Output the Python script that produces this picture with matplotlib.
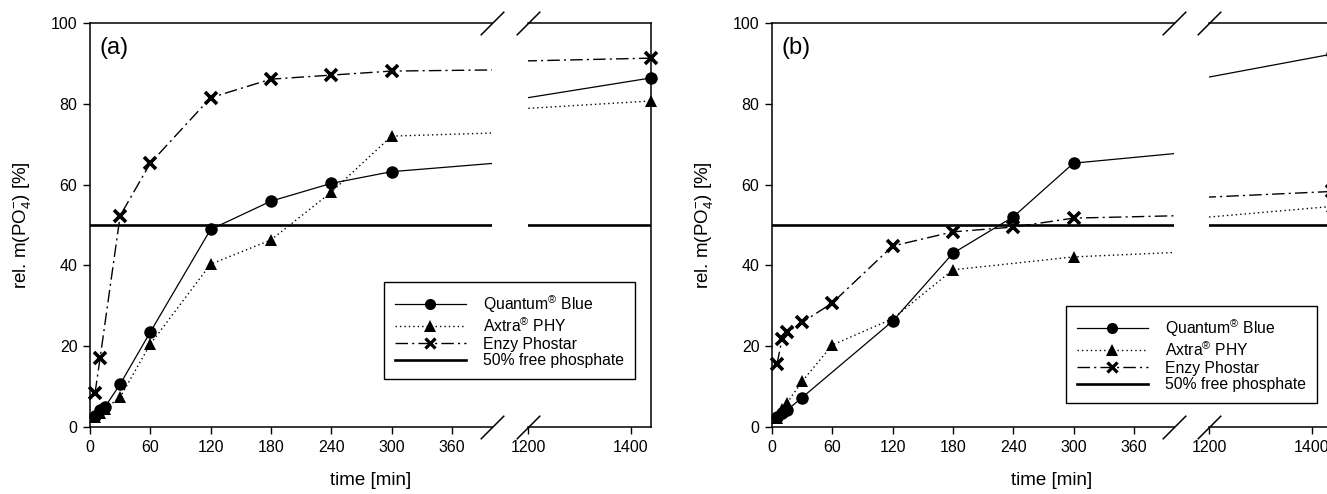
import numpy as np
import matplotlib
matplotlib.use('Agg')
import matplotlib.pyplot as plt
from matplotlib.lines import Line2D

plt.rcParams['font.family'] = ['Liberation Sans', 'DejaVu Sans']
plt.rcParams['mathtext.default'] = 'regular'
plt.rcParams['font.size'] = 11.3

# ---------------------------------------------------------------- data --- #
# (a)
t_a = [5, 10, 15, 30, 60, 120, 180, 240, 300, 1440]
quantum_a = [2.7, 4.2, 5.0, 10.6, 23.5, 48.9, 55.9, 60.3, 63.2, 86.4]
axtra_a = [2.5, 3.5, 4.5, 7.4, 20.5, 40.3, 46.3, 58.1, 72.0, 80.7]
t_enzy_a = [5, 10, 30, 60, 120, 180, 240, 300, 1440]
enzy_a = [8.4, 17.0, 52.3, 65.3, 81.5, 86.1, 87.1, 88.1, 91.3]

# (b)
t_quantum_b = [5, 10, 15, 30, 120, 180, 240, 300, 1440]
quantum_b = [2.5, 3.4, 4.2, 7.3, 26.2, 43.0, 52.0, 65.3, 92.3]
t_axtra_b = [5, 10, 15, 30, 60, 120, 180, 300, 1440]
axtra_b = [2.3, 4.5, 6.0, 11.3, 20.3, 26.8, 38.9, 42.1, 54.6]
t_enzy_b = [5, 10, 15, 30, 60, 120, 180, 240, 300, 1440]
enzy_b = [15.6, 21.8, 23.5, 25.9, 30.7, 44.8, 48.3, 49.5, 51.7, 58.3]

threshold = 50
labels = ['Quantum$^{®}$ Blue', 'Axtra$^{®}$ PHY', 'Enzy Phostar', '50% free phosphate']
xticks_left = [0, 60, 120, 180, 240, 300, 360]
xticks_right = [1200, 1400]
yticks = [0, 20, 40, 60, 80, 100]

# ---------------------------------------------------------------- styles - #
W, H = 1327, 494
styles = [
    dict(ls='-', lw=0.9, marker='o', ms=9, mew=0),
    dict(ls=(0, (1, 2.2)), lw=1.0, marker='^', ms=9, mew=0),
    dict(ls=(0, (9, 3, 1.5, 3)), lw=1.0, marker='x', ms=8, mew=2.6),
]


def px_rect(x0, x1, y_top=23, y_bot=427):
    """Axes rectangle in figure fraction from pixel edges."""
    return [x0 / W, (H - y_bot) / H, (x1 - x0) / W, (y_bot - y_top) / H]


def draw_panel(fig, xl, xr, series, tag, legend_xy):
    ax1 = fig.add_axes(px_rect(xl[0], xl[1]))
    ax2 = fig.add_axes(px_rect(xr[0], xr[1]))

    for ax, lim in ((ax1, (0, 400)), (ax2, (1200, 1440))):
        for (t, v), st in zip(series, styles):
            t = np.asarray(t)
            v = np.asarray(v)
            ax.plot(t, v, color='black', ls=st['ls'], lw=st['lw'])
            keep = (t >= lim[0]) & (t <= lim[1])
            ax.plot(t[keep], v[keep], ls='none', color='black', marker=st['marker'],
                    ms=st['ms'], mew=st['mew'], clip_on=False, zorder=4)
        ax.axhline(threshold, color='black', lw=1.9)
        ax.set_xlim(*lim)
        ax.set_ylim(0, 100)
        for s in ax.spines.values():
            s.set_linewidth(1.1)
        ax.tick_params(direction='out', length=5, width=1.0, labelsize=11.5, pad=4)

    ax1.set_xticks(xticks_left)
    ax1.set_yticks(yticks)
    ax1.spines['right'].set_visible(False)
    ax2.set_xticks(xticks_right)
    ax2.set_yticks([])
    ax2.spines['left'].set_visible(False)

    # break marks
    brk = dict(marker=[(-1, -1), (1, 1)], markersize=17, linestyle='none',
               color='black', mec='black', mew=1.1, clip_on=False)
    ax1.plot([1, 1], [0, 1], transform=ax1.transAxes, **brk)
    ax2.plot([0, 0], [0, 1], transform=ax2.transAxes, **brk)

    ax1.text(0.024, 0.965, tag, transform=ax1.transAxes, fontsize=17, va='top', ha='left')

    # axis labels for the whole panel
    xc = (xl[0] + xr[1]) / 2
    fig.text(xc / W, 1 - 480 / H, 'time [min]', ha='center', va='center', fontsize=13.5)
    fig.text((xl[0] - 68) / W, 1 - 225 / H, 'rel. m(PO$_4^{-}$) [%]', rotation=90,
             ha='center', va='center', fontsize=13.5)

    handles = [Line2D([], [], color='black', ls=st['ls'], lw=st['lw'], marker=st['marker'],
                      ms=st['ms'] - 1, mew=st['mew'] * 0.9) for st in styles]
    handles.append(Line2D([], [], color='black', lw=1.9))
    leg = fig.legend(handles, labels, loc='upper left',
                     bbox_to_anchor=(legend_xy[0] / W, 1 - legend_xy[1] / H),
                     bbox_transform=fig.transFigure, fancybox=False, edgecolor='black',
                     framealpha=1, handlelength=4.5, handletextpad=1.1, borderpad=0.7,
                     labelspacing=0.1, numpoints=1, fontsize=11.3, borderaxespad=0)
    leg.get_frame().set_linewidth(1.0)


fig = plt.figure(figsize=(W / 100, H / 100), dpi=100)

draw_panel(fig, (90, 492), (528, 651),
           [(t_a, quantum_a), (t_a, axtra_a), (t_enzy_a, enzy_a)], '(a)', (384, 282))
draw_panel(fig, (772, 1174), (1209, 1332),
           [(t_quantum_b, quantum_b), (t_axtra_b, axtra_b), (t_enzy_b, enzy_b)], '(b)', (1066, 306))

fig.savefig('out.png', dpi=100)
